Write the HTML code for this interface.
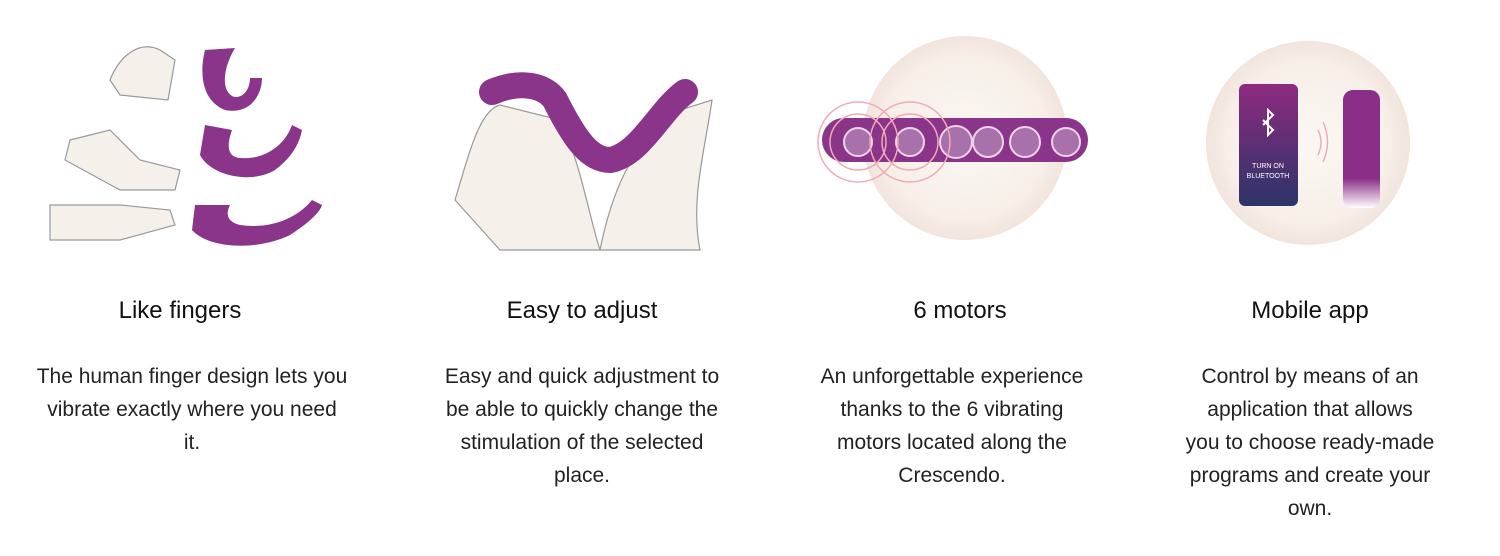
<!DOCTYPE html>
<html><head><meta charset="utf-8"><style>
body{margin:0;width:1500px;height:556px;background:#fff;position:relative;overflow:hidden;font-family:"Liberation Sans",sans-serif;color:#111}
.t{position:absolute;width:400px;text-align:center;font-size:24px;top:297px}
.p{position:absolute;width:400px;text-align:center;font-size:21px;line-height:33px;top:360px;color:#222}
svg{position:absolute;left:0;top:0}
</style></head><body>
<svg width="1500" height="280" viewBox="0 0 1500 280">
<defs>
<radialGradient id="bg" cx="50%" cy="50%" r="50%"><stop offset="0" stop-color="#fbf7f3"/><stop offset="0.8" stop-color="#f7efe8"/><stop offset="1" stop-color="#f1e4dc"/></radialGradient>
<linearGradient id="ph" x1="0" y1="0" x2="0" y2="1"><stop offset="0" stop-color="#8e2a7f"/><stop offset="1" stop-color="#2c3468"/></linearGradient>
<linearGradient id="dv" x1="0" y1="0" x2="0" y2="1"><stop offset="0" stop-color="#8a2e87"/><stop offset="0.75" stop-color="#8a2e87"/><stop offset="1" stop-color="#fff"/></linearGradient>
</defs>
<!-- col1 hands -->
<g fill="#f6f0ea" stroke="#999" stroke-width="1.2">
<path d="M110 80 C120 55 140 40 160 50 L175 60 L168 100 L120 95 Z"/>
<path d="M70 140 L110 130 L140 160 L180 170 L175 190 L120 190 L65 160 Z"/>
<path d="M50 205 L120 205 L170 210 L175 225 L120 240 L50 240 Z"/>
</g>
<g fill="#8a348a">
<path d="M205 50 C200 70 200 100 225 110 C250 115 262 95 262 78 L250 78 C250 92 240 100 232 96 C222 90 222 70 235 48 Z"/>
<path d="M205 125 L200 155 C210 175 250 185 275 170 C295 155 300 140 302 130 L292 125 C285 145 265 160 240 158 C230 157 225 150 232 130 Z"/>
<path d="M195 205 L192 230 C210 250 260 250 290 235 C310 222 320 212 322 205 L312 200 C300 215 275 230 240 225 C228 222 225 215 230 205 Z"/>
</g>
<!-- col2 -->
<g fill="#f6f0ea" stroke="#999" stroke-width="1.2">
<path d="M455 200 C470 150 480 110 500 105 L560 120 C580 160 590 220 600 250 L500 250 Z"/>
<path d="M600 250 C610 200 630 140 680 110 L712 100 C705 150 690 200 700 250 Z"/>
</g>
<path d="M492 92 C520 80 545 85 555 100 C575 140 590 160 610 160 C640 155 660 110 685 92" fill="none" stroke="#8a348a" stroke-width="26" stroke-linecap="round"/>
<!-- col3 -->
<circle cx="965" cy="138" r="102" fill="url(#bg)"/>
<rect x="822" y="118" width="266" height="44" rx="22" fill="#8a348a"/>
<g fill="#a871ac" stroke="#ecd4e6" stroke-width="2">
<circle cx="858" cy="142" r="14"/><circle cx="910" cy="142" r="14"/><circle cx="956" cy="142" r="16"/><circle cx="988" cy="142" r="15"/><circle cx="1025" cy="142" r="15"/><circle cx="1066" cy="142" r="14"/>
</g>
<g fill="none" stroke="#f3a9b8" stroke-width="1.5">
<circle cx="858" cy="142" r="28"/><circle cx="858" cy="142" r="40"/><circle cx="910" cy="142" r="28"/><circle cx="910" cy="142" r="40"/>
</g>
<!-- col4 -->
<circle cx="1308" cy="143" r="102" fill="url(#bg)"/>
<rect x="1239" y="84" width="59" height="122" rx="6" fill="url(#ph)"/>
<text x="1268" y="168" font-size="7" fill="#fff" text-anchor="middle" font-family="Liberation Sans">TURN ON</text>
<text x="1268" y="178" font-size="7" fill="#fff" text-anchor="middle" font-family="Liberation Sans">BLUETOOTH</text>
<path d="M1263 120 L1273 130 L1268 135 L1268 110 L1273 115 L1263 125" fill="none" stroke="#fff" stroke-width="2"/>
<rect x="1343" y="90" width="37" height="118" rx="10" fill="url(#dv)"/>
<g fill="none" stroke="#f3a9b8" stroke-width="1.5"><path d="M1318 130 Q1324 142 1318 155"/><path d="M1323 122 Q1332 142 1323 162"/></g>
</svg>
<div class="t" style="left:-20px">Like fingers</div>
<div class="t" style="left:382px">Easy to adjust</div>
<div class="t" style="left:760px">6 motors</div>
<div class="t" style="left:1110px">Mobile app</div>
<div class="p" style="left:-8px">The human finger design lets you<br>vibrate exactly where you need<br>it.</div>
<div class="p" style="left:382px">Easy and quick adjustment to<br>be able to quickly change the<br>stimulation of the selected<br>place.</div>
<div class="p" style="left:752px">An unforgettable experience<br>thanks to the 6 vibrating<br>motors located along the<br>Crescendo.</div>
<div class="p" style="left:1110px">Control by means of an<br>application that allows<br>you to choose ready-made<br>programs and create your<br>own.</div>
</body></html>
